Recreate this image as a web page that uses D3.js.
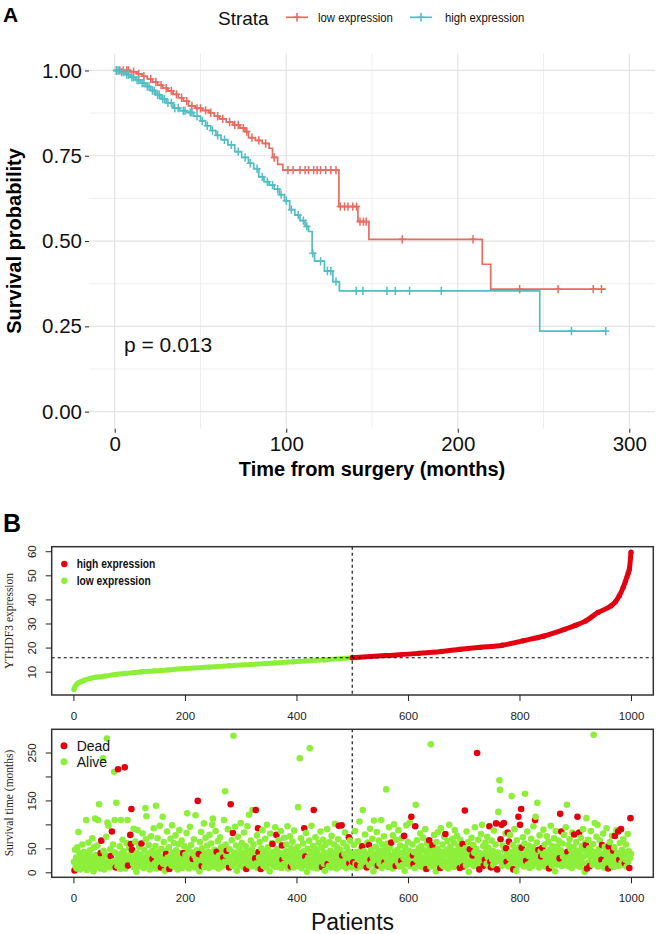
<!DOCTYPE html>
<html><head><meta charset="utf-8">
<script src="https://cdn.jsdelivr.net/npm/d3@7"></script>
<style>body{margin:0;background:#fff}svg{display:block}</style>
</head><body>
<svg id="c" width="657" height="934"></svg>
<script>
// ---------- Panel A : Kaplan-Meier ----------
const kmTimeTicks = [0, 100, 200, 300];
const kmSurvTicks = [0, 0.25, 0.5, 0.75, 1];
const strataNames = ["low expression", "high expression"];
const pValueText = "p = 0.013";
const kmEnd = 286.3;
const lowTime = [0, 9, 13, 16, 19, 22, 25, 28, 31, 34, 37, 40, 43, 47, 51, 55, 58, 61, 65, 69, 73, 76, 78, 82, 86, 90, 92, 95, 98, 130.7, 141.8, 148.2, 214.3, 219.2];
const lowSurv = [1.0, 0.996, 0.99, 0.983, 0.975, 0.966, 0.957, 0.948, 0.94, 0.93, 0.92, 0.91, 0.896, 0.889, 0.883, 0.876, 0.866, 0.858, 0.849, 0.84, 0.831, 0.821, 0.803, 0.795, 0.786, 0.772, 0.745, 0.725, 0.708, 0.601, 0.557, 0.505, 0.432, 0.359];
const lowCensor = [1, 3, 5, 7, 8, 11, 14, 17, 21, 24, 27, 30, 33, 36, 39, 42, 45, 48, 50, 53, 56, 60, 63, 67, 70, 72, 75, 77, 80, 84, 88, 93, 101, 104, 108, 111, 113, 116, 118, 120, 123, 126, 129, 131.5, 134, 136, 138.8, 141, 143, 145, 146.6, 167.6, 208.9, 236.1, 258.5, 279, 283.8];
const highTime = [0, 3, 6, 9, 12, 15, 18, 21, 24, 27, 30, 34, 38, 42, 46, 50, 53, 56, 59, 62, 66, 70, 74, 78, 81, 84, 87, 90, 93, 96, 99, 102, 105, 108, 111, 113, 115.1, 116.5, 122.3, 127.2, 131, 247.8];
const highSurv = [1.0, 0.995, 0.988, 0.98, 0.972, 0.963, 0.953, 0.941, 0.929, 0.916, 0.905, 0.89, 0.882, 0.877, 0.866, 0.852, 0.838, 0.824, 0.81, 0.797, 0.782, 0.762, 0.745, 0.728, 0.712, 0.688, 0.674, 0.664, 0.652, 0.636, 0.618, 0.592, 0.576, 0.56, 0.543, 0.528, 0.464, 0.441, 0.412, 0.381, 0.354, 0.236];
const highCensor = [1, 2, 4, 5, 7, 8, 10, 11, 13, 14, 16, 17, 19, 20, 22, 23, 25, 26, 28, 29, 31, 33, 35, 37, 40, 41, 44, 45, 48, 51, 54, 57, 60, 64, 68, 72, 76, 79, 83, 86, 89, 92, 95, 97, 100, 103, 107, 110, 112, 115.5, 120, 124, 126, 129, 140.8, 144.7, 158.7, 163.6, 171.9, 190.4, 266.3, 286.3];

// ---------- Panel B : expression ranking ----------
const exprRank = [1, 3, 6, 9, 12, 16, 20, 30, 40, 57, 75, 94, 120, 145, 169, 200, 244, 280, 319, 360, 394, 450, 500, 560, 619, 660, 694, 730, 769, 806, 844, 881, 900, 919, 941, 964, 972, 979, 986, 990, 993, 995, 997, 1000];
const exprValue = [2.6, 3.8, 4.8, 5.4, 5.7, 6.1, 6.5, 7.2, 7.7, 8.2, 8.8, 9.3, 9.9, 10.3, 10.7, 11.3, 11.9, 12.5, 13.0, 13.6, 14.1, 14.9, 15.8, 16.7, 17.6, 18.4, 19.3, 20.1, 21.0, 22.8, 24.8, 27.6, 29.2, 31.1, 34.6, 37.3, 39.0, 41.5, 45.0, 47.5, 49.5, 51.0, 52.5, 59.6];
const cutoffRank = 500;
const patientTicks = [0, 200, 400, 600, 800, 1000];
const exprTicks = [10, 20, 30, 40, 50, 60];
const exprLegend = ["high expression", "low expression"];

// ---------- Panel B : survival time per patient (ordered by expression) ----------
const survTicks = [0, 50, 100, 150, 200, 250];
const survTickLabels = ["0", "50", "", "150", "", "250"];
const statusLegend = ["Dead", "Alive"];
const survTime = [
22,4,47,12,31,8,52,17,84,27,40,6,19,35,11,58,24,14,43,9,
30,15,109,5,38,21,62,13,28,46,9,33,18,71,25,2,52,16,112,36,
24,11,56,109,19,142,30,8,40,66,14,27,238,45,6,21,37,12,74,279,
104,18,97,29,10,48,34,20,85,16,58,23,210,109,41,10,145,26,13,215,
31,12,54,7,109,39,22,68,15,44,27,219,8,35,61,19,109,14,28,50,
36,78,59,132,47,25,18,91,10,33,64,21,1,40,88,16,29,53,12,37,
24,60,14,81,33,9,47,20,134,69,117,27,11,39,57,17,6,30,75,22,
45,28,13,92,36,19,55,139,8,26,71,42,15,33,97,21,10,49,30,116,
18,63,27,3,44,38,16,85,31,12,52,7,24,70,36,14,98,41,20,61,
29,11,77,46,17,34,6,59,23,88,13,40,26,66,9,32,40,19,54,15,
37,12,82,123,25,48,8,31,95,18,57,22,41,28,14,69,35,10,119,27,
46,16,149,30,38,2,63,21,84,13,50,33,24,102,11,39,72,18,28,56,
20,43,9,78,32,15,60,26,99,112,38,12,47,23,86,17,43,30,65,8,
35,19,73,11,52,27,40,14,31,109,22,169,58,36,45,16,90,25,10,48,
21,142,33,67,13,82,285,41,18,95,29,56,3,37,74,23,14,49,31,103,
17,61,26,40,11,83,35,20,54,7,44,96,28,15,120,38,22,66,12,47,
130,25,58,14,36,29,130,19,77,9,92,42,31,63,16,7,50,24,88,38,
13,45,27,70,10,34,99,21,52,16,39,2,81,30,18,61,59,26,43,12,
35,94,20,78,48,11,29,67,15,40,23,86,9,56,26,37,17,72,31,44,
14,58,27,96,8,41,21,75,33,12,50,19,64,36,10,87,25,45,16,30,
22,53,136,13,40,238,28,71,9,35,19,60,44,92,15,33,82,24,1,49,
31,12,66,259,20,42,97,27,10,55,130,36,17,73,26,48,8,39,21,62,
14,34,85,23,51,11,29,68,18,41,3,57,32,25,90,17,38,13,63,28,
45,10,76,22,33,15,58,27,101,19,40,8,52,30,69,97,24,12,47,35,
98,35,20,61,14,38,83,26,9,53,31,17,44,73,19,66,28,11,39,22,
13,21,57,34,86,18,42,9,15,65,28,39,106,24,12,49,31,54,130,20,
44,16,79,27,35,10,62,22,38,57,14,91,26,47,19,70,31,2,108,36,
25,53,12,84,40,14,29,66,18,45,33,109,9,58,23,37,75,21,15,48,
173,27,60,11,39,94,22,51,16,62,34,8,77,29,100,19,43,13,68,31,
47,20,88,36,12,56,26,24,71,15,41,30,76,3,52,23,98,35,17,63,
28,45,104,13,37,116,21,58,35,17,42,9,96,141,26,67,33,14,50,24,
39,81,18,55,11,30,72,22,46,15,90,34,7,60,27,41,19,67,52,12,
267,32,23,56,45,14,78,29,38,2,63,21,49,84,17,35,26,9,92,43,
16,58,31,12,74,40,80,22,47,19,65,8,36,99,27,53,14,42,25,70,
33,11,61,88,20,45,29,76,15,38,54,23,9,68,31,44,17,59,12,36,
27,129,50,14,85,39,21,63,1,45,48,30,18,72,26,35,57,13,41,94,
22,49,16,249,33,68,11,6,40,26,80,19,99,37,55,14,29,26,62,43,
18,74,32,51,12,96,40,22,10,66,27,45,15,87,35,21,58,102,30,6,
41,126,24,192,172,69,33,99,14,56,28,103,46,19,81,50,22,37,83,12,
64,30,78,17,43,159,25,57,6,36,90,20,48,3,67,31,15,116,39,53,
99,26,132,51,18,73,37,12,60,164,29,24,45,85,16,34,56,9,41,21,
70,31,13,52,96,23,40,109,116,18,62,145,34,47,10,77,27,44,33,15,
51,36,89,21,58,12,42,28,75,17,35,64,8,47,24,97,31,14,55,38,
20,71,43,2,86,29,53,16,37,66,22,29,122,46,85,13,60,33,19,78,
40,25,94,15,141,43,31,57,12,69,22,48,36,9,83,27,52,79,18,41,
30,63,14,116,45,24,83,37,11,72,28,55,19,90,33,47,1,61,57,113,
8,39,68,21,50,13,33,86,26,44,16,59,287,30,103,19,41,74,25,99,
12,48,35,67,20,28,26,57,15,81,39,10,53,23,44,92,31,17,8,54,
36,63,22,41,14,76,29,45,11,52,76,33,19,88,40,25,85,13,26,61,
37,90,20,47,31,69,15,42,19,26,58,12,35,80,22,44,9,30,113,38];
const deadPatients = [2,49,50,67,69,76,80,92,98,102,103,104,105,122,142,157,166,172,197,214,223,225,230,257,269,275,279,282,286,310,326,327,331,332,336,357,364,374,375,390,414,416,431,446,456,476,481,482,494,495,
502,509,518,526,530,533,546,558,570,578,588,593,606,609,610,613,633,638,644,658,667,693,698,699,702,711,716,724,728,736,738,746,748,749,758,760,766,768,772,776,777,779,781,789,798,801,803,804,812,828,834,839,841,853,872,873,875,886,898,904,907,919,921,926,947,948,959,960,968,971,977,979,982,989,997,999];

// ================= drawing =================
const svg = d3.select("#c");
const SANS = "'Liberation Sans', Arial, Helvetica, sans-serif";
const SERIF = "'Liberation Serif', 'Times New Roman', serif";
const RED_KM = "#EA6A5F", TEAL_KM = "#52BDC2";
const RED = "#E3000F", GREEN = "#8EEF3A";

svg.append("rect").attr("width", 657).attr("height", 934).attr("fill", "#fff");

// condensed text helper (no narrow font installed): horizontal squeeze
function narrowText(g, x, y, t, size, weight, sx) {
  return g.append("text").attr("transform", `translate(${x},${y}) scale(${sx},1)`).text(t)
    .style("font-family", SANS).style("font-size", size + "px").style("font-weight", weight).attr("fill", "#111");
}

// ----- Panel A -----
const xA = d3.scaleLinear().domain([-15, 315]).range([89, 655]);
const yA = d3.scaleLinear().domain([-0.05, 1.05]).range([428.7, 53.4]);
const gA = svg.append("g");

// grid
const minorX = [50, 150, 250], minorY = [0.125, 0.375, 0.625, 0.875];
gA.selectAll(".gxm").data(minorX).join("line")
  .attr("x1", d => xA(d)).attr("x2", d => xA(d)).attr("y1", 53.4).attr("y2", 428.7)
  .attr("stroke", "#EDEDED").attr("stroke-width", 0.9);
gA.selectAll(".gym").data(minorY).join("line")
  .attr("y1", d => yA(d)).attr("y2", d => yA(d)).attr("x1", 89).attr("x2", 655)
  .attr("stroke", "#EDEDED").attr("stroke-width", 0.9);
gA.selectAll(".gx").data(kmTimeTicks).join("line")
  .attr("x1", d => xA(d)).attr("x2", d => xA(d)).attr("y1", 53.4).attr("y2", 428.7)
  .attr("stroke", "#E4E4E4").attr("stroke-width", 1.2);
gA.selectAll(".gy").data(kmSurvTicks).join("line")
  .attr("y1", d => yA(d)).attr("y2", d => yA(d)).attr("x1", 89).attr("x2", 655)
  .attr("stroke", "#E4E4E4").attr("stroke-width", 1.2);

// axes
const axYA = gA.append("g").attr("transform", "translate(89,0)")
  .call(d3.axisLeft(yA).tickValues(kmSurvTicks).tickFormat(d3.format(".2f")).tickSize(4).tickPadding(3));
const axXA = gA.append("g").attr("transform", "translate(0,428.7)")
  .call(d3.axisBottom(xA).tickValues(kmTimeTicks).tickFormat(d3.format("d")).tickSize(4).tickPadding(4));
[axYA, axXA].forEach(a => {
  a.select(".domain").remove();
  a.selectAll("line").attr("stroke", "#333").attr("stroke-width", 1.1);
  a.selectAll("text").attr("fill", "#111").style("font-family", SANS).style("font-size", "20.5px");
});

// KM curves
const stepLine = d3.line().x(d => xA(d[0])).y(d => yA(d[1])).curve(d3.curveStepAfter);
function stepPoints(T, S) {
  const p = T.map((t, i) => [t, S[i]]);
  p.push([kmEnd, S[S.length - 1]]);
  return p;
}
function survAt(T, S, c) { return S[Math.max(0, d3.bisectRight(T, c) - 1)]; }
const groups = [
  {T: lowTime, S: lowSurv, C: lowCensor, col: RED_KM},
  {T: highTime, S: highSurv, C: highCensor, col: TEAL_KM}
];
groups.forEach(g => {
  gA.append("path").attr("d", stepLine(stepPoints(g.T, g.S)))
    .attr("fill", "none").attr("stroke", g.col).attr("stroke-width", 1.7);
});
const plus = "M-3.6,0H3.6M0,-4.2V4.2";
groups.forEach(g => {
  gA.selectAll(null).data(g.C).join("path")
    .attr("d", plus)
    .attr("transform", c => `translate(${xA(c)},${yA(survAt(g.T, g.S, c))})`)
    .attr("stroke", g.col).attr("stroke-width", 1.5).attr("fill", "none");
});

// p value
gA.append("text").attr("x", 124).attr("y", 352).text(pValueText)
  .style("font-family", SANS).style("font-size", "21px").attr("fill", "#111");

// axis titles
gA.append("text").attr("x", 372).attr("y", 476).attr("text-anchor", "middle")
  .text("Time from surgery (months)")
  .style("font-family", SANS).style("font-size", "20px").style("font-weight", "bold");
gA.append("text").attr("transform", "translate(21,241) rotate(-90)").attr("text-anchor", "middle")
  .text("Survival probability")
  .style("font-family", SANS).style("font-size", "20px").style("font-weight", "bold");

// legend
gA.append("text").attr("x", 218).attr("y", 25).text("Strata")
  .style("font-family", SANS).style("font-size", "19px").attr("fill", "#111");
const legA = [{x: 286, col: RED_KM, tx: 318}, {x: 410, col: TEAL_KM, tx: 445}];
legA.forEach((l, i) => {
  gA.append("line").attr("x1", l.x).attr("x2", l.x + 22).attr("y1", 17.3).attr("y2", 17.3)
    .attr("stroke", l.col).attr("stroke-width", 1.7);
  gA.append("path").attr("d", plus).attr("transform", `translate(${l.x + 11},17.3)`)
    .attr("stroke", l.col).attr("stroke-width", 1.6);
  narrowText(gA, l.tx, 21.5, strataNames[i], 13.5, "normal", 0.84);
});

// panel letters
svg.append("text").attr("x", 3).attr("y", 22).text("A")
  .style("font-family", SANS).style("font-size", "21px").style("font-weight", "bold");
svg.append("text").attr("x", 3).attr("y", 532).text("B")
  .style("font-family", SANS).style("font-size", "25px").style("font-weight", "bold");

// ----- Panel B -----
const L = 51.7, R = 653.3;
const nP = survTime.length;
const padP = 0.04 * (nP - 1);
const xP = d3.scaleLinear().domain([1 - padP, nP + padP]).range([L, R]);

const eExt = d3.extent(exprValue), ePad = 0.04 * (eExt[1] - eExt[0]);
const yE = d3.scaleLinear().domain([eExt[0] - ePad, eExt[1] + ePad]).range([695, 546.7]);
const sExt = d3.extent(survTime), sPad = 0.04 * (sExt[1] - sExt[0]);
const yS = d3.scaleLinear().domain([sExt[0] - sPad, sExt[1] + sPad]).range([877.3, 729.3]);

function styleAxis(a, rotate) {
  a.select(".domain").remove();
  a.selectAll("line").attr("stroke", "#222").attr("stroke-width", 1);
  a.selectAll("text").attr("fill", "#222").style("font-family", SANS).style("font-size", "11.5px");
  if (rotate) {
    a.selectAll("text").attr("x", null).attr("dy", null).attr("text-anchor", "middle")
      .attr("transform", "translate(-16,0) rotate(-90)");
  }
}

// top sub-plot
const gT = svg.append("g");
const cut = exprValue[exprRank.indexOf(cutoffRank)];
const exprPts = exprRank.map((r, i) => ({r, v: exprValue[i]}));
const lowPts = exprPts.filter(d => d.r <= cutoffRank);
const highPts = exprPts.filter(d => d.r >= cutoffRank);
const exprLine = d3.line().x(d => xP(d.r)).y(d => yE(d.v)).curve(d3.curveMonotoneX);
[[lowPts, GREEN], [highPts, RED]].forEach(([pts, col]) => {
  gT.append("path").attr("d", exprLine(pts)).attr("fill", "none")
    .attr("stroke", col).attr("stroke-width", 5).attr("stroke-linecap", "round");
  gT.selectAll(null).data(pts).join("circle")
    .attr("cx", d => xP(d.r)).attr("cy", d => yE(d.v)).attr("r", 2.6).attr("fill", col);
});
gT.append("line").attr("x1", xP(cutoffRank)).attr("x2", xP(cutoffRank)).attr("y1", 546.7).attr("y2", 695)
  .attr("stroke", "#000").attr("stroke-width", 1.1).attr("stroke-dasharray", "3,3");
gT.append("line").attr("x1", L).attr("x2", R).attr("y1", yE(cut)).attr("y2", yE(cut))
  .attr("stroke", "#000").attr("stroke-width", 1.1).attr("stroke-dasharray", "3,3");
gT.append("rect").attr("x", L).attr("y", 546.7).attr("width", R - L).attr("height", 695 - 546.7)
  .attr("fill", "none").attr("stroke", "#333").attr("stroke-width", 1.5);
const axTX = gT.append("g").attr("transform", "translate(0,695)")
  .call(d3.axisBottom(xP).tickValues(patientTicks).tickFormat(d3.format("d")).tickSize(6).tickPadding(11));
styleAxis(axTX, false);
const axTY = gT.append("g").attr("transform", `translate(${L},0)`)
  .call(d3.axisLeft(yE).tickValues(exprTicks).tickFormat(d3.format("d")).tickSize(6));
styleAxis(axTY, true);
gT.append("text").attr("transform", "translate(13,621) rotate(-90)").attr("text-anchor", "middle")
  .text("YTHDF3 expression").style("font-family", SERIF).style("font-size", "11.5px").attr("fill", "#222");
// legend
[[RED, 564, exprLegend[0]], [GREEN, 580.7, exprLegend[1]]].forEach(([col, yy, t]) => {
  gT.append("circle").attr("cx", 64.3).attr("cy", yy).attr("r", 3.2).attr("fill", col);
  narrowText(gT, 76.7, yy + 4.3, t, 12.5, "bold", 0.82);
});

// bottom sub-plot
const gB = svg.append("g");
const deadSet = new Set(deadPatients);
const scatter = survTime.map((t, i) => ({p: i + 1, t, dead: deadSet.has(i + 1)}));
gB.append("line").attr("x1", xP(cutoffRank)).attr("x2", xP(cutoffRank)).attr("y1", 729.3).attr("y2", 877.3)
  .attr("stroke", "#000").attr("stroke-width", 1.1).attr("stroke-dasharray", "3,3");
gB.selectAll(null).data(scatter).join("circle")
  .attr("cx", d => xP(d.p)).attr("cy", d => yS(d.t)).attr("r", 3.3)
  .attr("fill", d => d.dead ? RED : GREEN);
gB.append("rect").attr("x", L).attr("y", 729.3).attr("width", R - L).attr("height", 877.3 - 729.3)
  .attr("fill", "none").attr("stroke", "#333").attr("stroke-width", 1.5);
const axBX = gB.append("g").attr("transform", "translate(0,877.3)")
  .call(d3.axisBottom(xP).tickValues(patientTicks).tickFormat(d3.format("d")).tickSize(6).tickPadding(11));
styleAxis(axBX, false);
const axBY = gB.append("g").attr("transform", `translate(${L},0)`)
  .call(d3.axisLeft(yS).tickValues(survTicks).tickFormat((d, i) => survTickLabels[i]).tickSize(6));
styleAxis(axBY, true);
gB.append("text").attr("transform", "translate(13,803) rotate(-90)").attr("text-anchor", "middle")
  .text("Survival time (months)").style("font-family", SERIF).style("font-size", "11.5px").attr("fill", "#222");
gB.append("text").attr("x", (L + R) / 2).attr("y", 930).attr("text-anchor", "middle").text("Patients")
  .style("font-family", SANS).style("font-size", "23px").attr("fill", "#111");
[[RED, 745.7, statusLegend[0]], [GREEN, 761.7, statusLegend[1]]].forEach(([col, yy, t]) => {
  gB.append("circle").attr("cx", 64).attr("cy", yy).attr("r", 3.5).attr("fill", col);
  gB.append("text").attr("x", 76.7).attr("y", yy + 5).text(t)
    .style("font-family", SANS).style("font-size", "14px").attr("fill", "#111");
});
</script>
</body></html>
